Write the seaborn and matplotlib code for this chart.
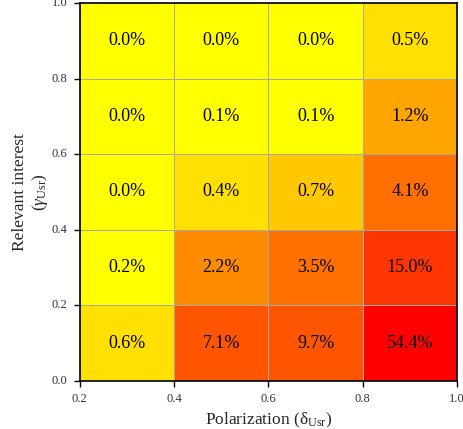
import numpy as np
import matplotlib
matplotlib.use("Agg")
import matplotlib.pyplot as plt
from matplotlib.colors import ListedColormap, BoundaryNorm
import seaborn as sns

# polarization bins (columns) and relevant-interest bins (rows, bottom -> top)
x_edges = ['0.2', '0.4', '0.6', '0.8', '1.0']
y_edges = ['0.0', '0.2', '0.4', '0.6', '0.8', '1.0']

# share of users (%) per cell, rows from top (0.8-1.0) to bottom (0.0-0.2)
row_08_10 = [0.0, 0.0, 0.0, 0.5]
row_06_08 = [0.0, 0.1, 0.1, 1.2]
row_04_06 = [0.0, 0.4, 0.7, 4.1]
row_02_04 = [0.2, 2.2, 3.5, 15.0]
row_00_02 = [0.6, 7.1, 9.7, 54.4]

values = np.array([row_08_10, row_06_08, row_04_06, row_02_04, row_00_02])
labels = np.array([[f"{v:.1f}%" for v in row] for row in values])

sns.set_style("white")
plt.rcParams['font.family'] = ['Liberation Serif', 'DejaVu Serif']
plt.rcParams['mathtext.fontset'] = 'custom'
plt.rcParams['mathtext.rm'] = 'Liberation Serif'
plt.rcParams['mathtext.it'] = 'Liberation Serif:italic'

colors = ['#ffff00', '#ffe000', '#ffc800', '#ffa500', '#ff8c00',
          '#ff7000', '#ff5500', '#ff3500', '#ff0000']
bounds = [0, 0.3, 0.65, 1.0, 2.0, 3.0, 5.0, 12.0, 30.0, 100.0]
cmap = ListedColormap(colors)
norm = BoundaryNorm(bounds, cmap.N)

fig = plt.figure(figsize=(4.64, 4.29), dpi=100)
ax = fig.add_axes([0.172, 0.112, 0.813, 0.881])
sns.heatmap(values, annot=labels, fmt='', cmap=cmap, norm=norm, cbar=False,
            linewidths=0.7, linecolor='#a8a8a8', ax=ax,
            annot_kws={'fontsize': 13, 'color': 'black'})

ax.set_xticks(np.arange(len(x_edges)))
ax.set_xticklabels(x_edges, fontsize=9, color='#333333')
ax.set_yticks(np.arange(len(y_edges)))
ax.set_yticklabels(y_edges[::-1], fontsize=9, color='#333333', rotation=0)
ax.tick_params(axis='both', direction='out', length=4, width=1, color='black',
               bottom=True, left=True, pad=5)

for s in ax.spines.values():
    s.set_visible(True)
    s.set_color('black')
    s.set_linewidth(1.2)

ax.set_xlabel(r'Polarization (δ$_{\mathrm{Usr}}$)', fontsize=12.5, labelpad=4)
ax.set_ylabel('Relevant interest\n' + r'($\gamma_{\mathrm{Usr}}$)', fontsize=12.5)
ax.yaxis.set_label_coords(-0.078, 0.5)

fig.savefig('out.png', dpi=100)
